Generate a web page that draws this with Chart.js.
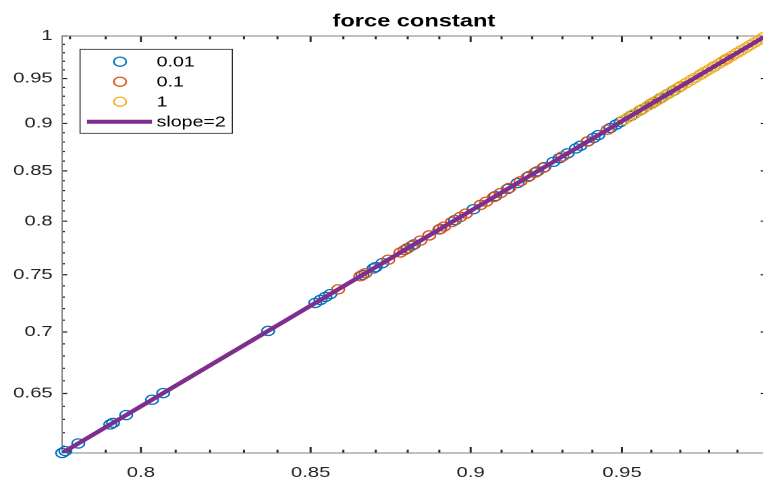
<!DOCTYPE html>
<html>
<head>
<meta charset="utf-8">
<script src="https://cdn.jsdelivr.net/npm/chart.js@4.4.0/dist/chart.umd.min.js"></script>
<style>
  html, body { margin: 0; padding: 0; background: #fff; overflow: hidden; }
  /* the reference is stretched sideways, so draw narrower and widen */
  #wrap { width: 573px; height: 479px; transform: scaleX(1.35); transform-origin: 0 0; }
</style>
</head>
<body>
<div id="wrap"><canvas id="c" width="573" height="479"></canvas></div>
<script>
// series "0.01"
const xBlue = [0.7778, 0.7787, 0.7823, 0.7913, 0.7921, 0.7958, 0.8032, 0.8064, 0.8372, 0.8514,
  0.8530, 0.8545, 0.8560, 0.8659, 0.8693, 0.8700, 0.8721, 0.8799, 0.8820, 0.8900,
  0.8950, 0.9009, 0.9080, 0.9120, 0.9152, 0.9190, 0.9217, 0.9240, 0.9270, 0.9290,
  0.9317, 0.9345, 0.9360, 0.9385, 0.9404, 0.9420, 0.9461, 0.9480, 0.9495, 0.9530,
  0.9564, 0.9600, 0.9632, 0.9655, 0.9677];
const yBlue = [0.6050, 0.6064, 0.6120, 0.6262, 0.6274, 0.6333, 0.6451, 0.6503, 0.7009, 0.7249,
  0.7276, 0.7302, 0.7327, 0.7498, 0.7557, 0.7569, 0.7606, 0.7742, 0.7779, 0.7921,
  0.8010, 0.8116, 0.8245, 0.8317, 0.8376, 0.8446, 0.8495, 0.8538, 0.8593, 0.8630,
  0.8681, 0.8733, 0.8761, 0.8808, 0.8844, 0.8874, 0.8951, 0.8987, 0.9015, 0.9082,
  0.9147, 0.9216, 0.9278, 0.9322, 0.9364];

// series "0.1"
const xRed = [0.8584, 0.8652, 0.8668, 0.8739, 0.8777, 0.8790, 0.8812, 0.8840, 0.8868, 0.8903,
  0.8915, 0.8940, 0.8967, 0.8985, 0.9032, 0.9050, 0.9075, 0.9097, 0.9125, 0.9162,
  0.9185, 0.9210, 0.9237, 0.9300, 0.9384, 0.9451, 0.9540, 0.9610, 0.9700, 0.9771,
  0.9817, 0.9860];
const yRed = [0.7369, 0.7486, 0.7513, 0.7637, 0.7704, 0.7726, 0.7765, 0.7815, 0.7864, 0.7926,
  0.7948, 0.7992, 0.8041, 0.8073, 0.8158, 0.8190, 0.8236, 0.8276, 0.8327, 0.8394,
  0.8436, 0.8482, 0.8532, 0.8649, 0.8806, 0.8932, 0.9101, 0.9235, 0.9409, 0.9547,
  0.9637, 0.9722];

// series "1"
const xYellow = [0.9506, 0.9521, 0.9540, 0.9558, 0.9572, 0.9590, 0.9605, 0.9622, 0.9640, 0.9655,
  0.9671, 0.9690, 0.9704, 0.9720, 0.9738, 0.9752, 0.9770, 0.9785, 0.9801, 0.9818,
  0.9834, 0.9850, 0.9866, 0.9881, 0.9898, 0.9913, 0.9930, 0.9945, 0.9961, 0.9978, 0.9992];
const yYellow = [0.9036, 0.9065, 0.9101, 0.9135, 0.9162, 0.9197, 0.9226, 0.9258, 0.9293, 0.9322,
  0.9353, 0.9390, 0.9417, 0.9448, 0.9483, 0.9510, 0.9545, 0.9575, 0.9606, 0.9639,
  0.9671, 0.9702, 0.9734, 0.9763, 0.9797, 0.9827, 0.9860, 0.9890, 0.9922, 0.9956, 0.9984];

// slope=2 reference line
const xLine = [0.7778, 1];
const yLine = [0.6050, 1];

const xTicks = [0.8, 0.85, 0.9, 0.95];
const yTicks = [0.65, 0.7, 0.75, 0.8, 0.85, 0.9, 0.95, 1];
const xMinor = [0.78, 0.79, 0.81, 0.82, 0.83, 0.84, 0.86, 0.87, 0.88, 0.89, 0.91, 0.92, 0.93, 0.94, 0.96, 0.97, 0.98, 0.99];
const yMinor = [0.61, 0.62, 0.63, 0.64, 0.66, 0.67, 0.68, 0.69, 0.71, 0.72, 0.73, 0.74, 0.76, 0.77, 0.78, 0.79,
  0.81, 0.82, 0.83, 0.84, 0.86, 0.87, 0.88, 0.89, 0.91, 0.92, 0.93, 0.94, 0.96, 0.97, 0.98, 0.99];

const FONT = "'Liberation Sans', Arial, sans-serif";

function pts(xs, ys) {
  return xs.map((x, i) => ({ x: x, y: ys[i] }));
}

function circles(label, xs, ys, color, order) {
  return {
    label: label,
    data: pts(xs, ys),
    borderColor: color,
    backgroundColor: 'rgba(0,0,0,0)',
    pointRadius: 4.6,
    pointBorderWidth: 1.3,
    pointHoverRadius: 4.6,
    clip: false,
    order: order
  };
}

// box and inward tick marks like matlab
const axesBox = {
  id: 'axesBox',
  beforeDatasetsDraw(chart) {
    const { ctx, chartArea: a, scales } = chart;
    const x = scales.x, y = scales.y;
    ctx.save();
    ctx.strokeStyle = '#262626';
    ctx.lineWidth = 1.5;
    ctx.beginPath();
    xTicks.concat(xMinor).forEach(v => {
      const len = xTicks.includes(v) ? 6 : 3.3;
      const px = x.getPixelForValue(v);
      ctx.moveTo(px, a.bottom); ctx.lineTo(px, a.bottom - len);
      ctx.moveTo(px, a.top); ctx.lineTo(px, a.top + len);
    });
    ctx.stroke();
    ctx.lineWidth = 1.2;
    ctx.beginPath();
    yTicks.concat(yMinor).forEach(v => {
      const len = yTicks.includes(v) ? 3.7 : 2;
      const py = y.getPixelForValue(v);
      ctx.moveTo(a.left, py); ctx.lineTo(a.left + len, py);
      ctx.moveTo(a.right, py); ctx.lineTo(a.right - len, py);
    });
    ctx.stroke();
    ctx.strokeStyle = '#808080';
    ctx.lineWidth = 1;
    ctx.strokeRect(a.left, a.top, a.right - a.left, a.bottom - a.top);
    ctx.restore();
  }
};

const boxLegend = {
  id: 'boxLegend',
  afterDatasetsDraw(chart) {
    const ctx = chart.ctx;
    const ds = chart.data.datasets;
    const order = [1, 2, 3, 0];
    ctx.save();
    ctx.fillStyle = '#fff';
    ctx.fillRect(59.3, 49.3, 112.8, 84);
    ctx.strokeStyle = '#262626';
    ctx.lineWidth = 0.8;
    ctx.strokeRect(59.3, 49.3, 112.8, 84);
    ctx.font = '14.5px ' + FONT;
    ctx.textBaseline = 'middle';
    ctx.textAlign = 'left';
    order.forEach((k, i) => {
      const d = ds[k];
      const cy = 61.7 + i * 20;
      ctx.strokeStyle = d.borderColor;
      if (d.showLine) {
        ctx.lineWidth = d.borderWidth;
        ctx.beginPath();
        ctx.moveTo(64.4, cy); ctx.lineTo(112.6, cy);
        ctx.stroke();
      } else {
        ctx.lineWidth = d.pointBorderWidth;
        ctx.beginPath();
        ctx.arc(88.9, cy, d.pointRadius, 0, Math.PI * 2);
        ctx.stroke();
      }
      ctx.fillStyle = '#000';
      ctx.fillText(d.label, 116, cy + 1);
    });
    ctx.restore();
  }
};

new Chart(document.getElementById('c').getContext('2d'), {
  type: 'scatter',
  data: {
    datasets: [
      {
        label: 'slope=2',
        type: 'line',
        data: pts(xLine, yLine),
        showLine: true,
        borderColor: '#7E2F8E',
        borderWidth: 4,
        pointRadius: 0,
        fill: false,
        order: 0
      },
      circles('0.01', xBlue, yBlue, '#0072BD', 3),
      circles('0.1', xRed, yRed, '#D95319', 2),
      circles('1', xYellow, yYellow, '#EDB120', 1)
    ]
  },
  options: {
    responsive: false,
    animation: false,
    devicePixelRatio: 2,
    layout: { padding: 0 },
    plugins: {
      legend: { display: false },
      tooltip: { enabled: false },
      title: {
        display: true,
        text: 'force constant',
        fullSize: false,
        color: '#000',
        font: { family: FONT, size: 17.5, weight: 'bold' },
        padding: { top: 11, bottom: 4 }
      }
    },
    scales: {
      x: {
        type: 'logarithmic',
        position: 'bottom',
        min: 0.7778,
        max: 1,
        grid: { display: false, drawTicks: false },
        border: { display: false },
        ticks: {
          color: '#262626',
          font: { family: FONT, size: 15 },
          padding: 11,
          maxRotation: 0,
          autoSkip: false,
          callback: v => String(v)
        },
        afterBuildTicks: s => { s.ticks = xTicks.map(v => ({ value: v })); },
        afterFit: s => { s.height = 26; }
      },
      y: {
        type: 'logarithmic',
        position: 'left',
        min: 0.605,
        max: 1,
        grid: { display: false, drawTicks: false },
        border: { display: false },
        ticks: {
          color: '#262626',
          font: { family: FONT, size: 15 },
          padding: 7,
          autoSkip: false,
          callback: v => String(v)
        },
        afterBuildTicks: s => { s.ticks = yTicks.map(v => ({ value: v })); },
        afterFit: s => { s.width = 46; }
      }
    }
  },
  plugins: [axesBox, boxLegend]
});
</script>
</body>
</html>
